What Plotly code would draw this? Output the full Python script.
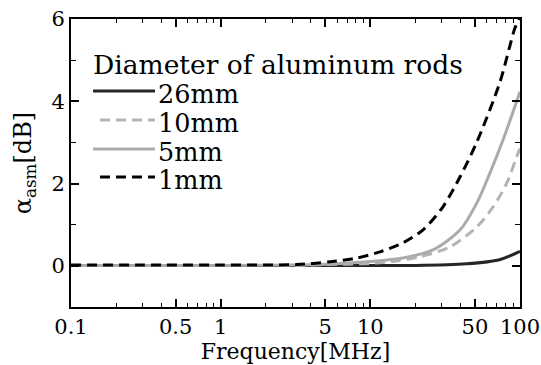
import plotly.graph_objects as go

# ---- data ----
freq_26 = [0.1, 1, 10, 20, 44, 73, 100]
att_26 = [0.01, 0.01, 0.01, 0.01, 0.05, 0.15, 0.35]

freq_10 = [0.1, 1, 3, 5, 10, 15, 21.4, 34, 51.5, 66, 81.8, 97, 100]
att_10 = [0.01, 0.01, 0.01, 0.03, 0.06, 0.12, 0.22, 0.46, 0.95, 1.43, 2.02, 2.74, 2.85]

freq_5 = [0.1, 1, 3, 5, 8, 12, 16.5, 26.2, 39.7, 51.5, 63, 77, 100]
att_5 = [0.01, 0.01, 0.02, 0.04, 0.08, 0.13, 0.19, 0.39, 0.87, 1.53, 2.26, 3.06, 4.23]

freq_1 = [0.1, 0.3, 1, 2, 3.2, 5.4, 8.1, 11.6, 16.5, 22.4, 30.5, 39.7, 51.5, 73.5, 92.5, 100]
att_1 = [0.02, 0.02, 0.02, 0.02, 0.03, 0.10, 0.19, 0.34, 0.56, 0.87, 1.43, 2.16, 3.01, 4.47, 5.78, 6.05]

series_names = ["26mm", "10mm", "5mm", "1mm"]
legend_title = "Diameter of aluminum rods"
x_title = "Frequency[MHz]"
y_title = "α<sub>asm</sub>[dB]"
x_major = [0.1, 0.5, 1, 5, 10, 50, 100]
x_major_labels = ["0.1", "0.5", "1", "5", "10", "50", "100"]
x_minor = [0.2, 0.3, 0.4, 0.6, 0.7, 0.8, 0.9, 2, 3, 4, 6, 7, 8, 9, 20, 30, 40, 60, 70, 80, 90]
y_major = [0, 2, 4, 6]
y_minor = [-1, 1, 3, 5]

FONT = "DejaVu Serif"

W, H = 541, 365
ML, MR, MT, MB = 71, 21, 19, 58   # plot area: x 71..520, y 19..307
PW, PH = W - ML - MR, H - MT - MB


def px(x):  # window pixel -> paper x
    return (x - ML) / PW


def py(y):  # window pixel -> paper y
    return (H - MB - y) / PH


fig = go.Figure()
styles = [
    dict(color="#262626", width=3, dash="solid"),
    dict(color="#b4b4b4", width=3, dash="10px,6px"),
    dict(color="#ababab", width=3, dash="solid"),
    dict(color="#000000", width=3, dash="10px,6px"),
]
data = [(freq_26, att_26), (freq_10, att_10), (freq_5, att_5), (freq_1, att_1)]
for (fx, fy), name, st in zip(data, series_names, styles):
    fig.add_trace(go.Scatter(x=fx, y=fy, mode="lines", name=name, showlegend=False,
                             line=dict(shape="spline", smoothing=0.8, **st)))

# hand-built legend (title + 4 entries)
fig.add_annotation(text=legend_title, xref="paper", yref="paper", x=px(91), y=py(64),
                   xanchor="left", yanchor="middle", showarrow=False,
                   font=dict(family=FONT, size=26.5, color="black"))
row_line_y = [91, 120, 149, 177]
sample_x0 = [93, 100, 93, 100]
for name, st, ly, x0 in zip(series_names, styles, row_line_y, sample_x0):
    fig.add_shape(type="line", xref="paper", yref="paper",
                  x0=px(x0), x1=px(155), y0=py(ly), y1=py(ly),
                  line=dict(color=st["color"], width=st["width"], dash=st["dash"]))
    fig.add_annotation(text=name, xref="paper", yref="paper", x=px(156), y=py(ly + 3),
                       xanchor="left", yanchor="middle", showarrow=False,
                       font=dict(family=FONT, size=25.5, color="black"))

fig.update_layout(
    width=W, height=H,
    margin=dict(l=ML, r=MR, t=MT, b=MB, autoexpand=False),
    paper_bgcolor="white", plot_bgcolor="white",
    font=dict(family=FONT, color="black", size=21),
    showlegend=False,
)
fig.update_xaxes(
    type="log", range=[-1, 2], automargin=False, ticklabeloverflow="allow",
    tickvals=x_major, ticktext=x_major_labels,
    ticks="inside", ticklen=8, tickwidth=1.5, tickcolor="black",
    minor=dict(tickvals=x_minor, ticks="inside", ticklen=4, tickwidth=1.2, tickcolor="black"),
    showline=True, linecolor="black", linewidth=2, mirror="ticks",
    showgrid=False, zeroline=False,
    tickfont=dict(family=FONT, size=21),
    title=dict(text=x_title, font=dict(family=FONT, size=22), standoff=0),
)
fig.update_yaxes(
    range=[-1, 6], automargin=False, ticklabeloverflow="allow",
    tickvals=y_major,
    ticks="inside", ticklen=8, tickwidth=1.5, tickcolor="black",
    minor=dict(tickvals=y_minor, ticks="inside", ticklen=5, tickwidth=1.2, tickcolor="black"),
    showline=True, linecolor="black", linewidth=2, mirror="ticks",
    showgrid=False, zeroline=False,
    tickfont=dict(family=FONT, size=21),
    title=dict(text=y_title, font=dict(family=FONT, size=24), standoff=13),
)

# remove the default 8px page margin so the figure sits at the window's top-left
fig.write_html("out.html", config={"displayModeBar": False},
               post_script="document.body.style.margin='0';")
